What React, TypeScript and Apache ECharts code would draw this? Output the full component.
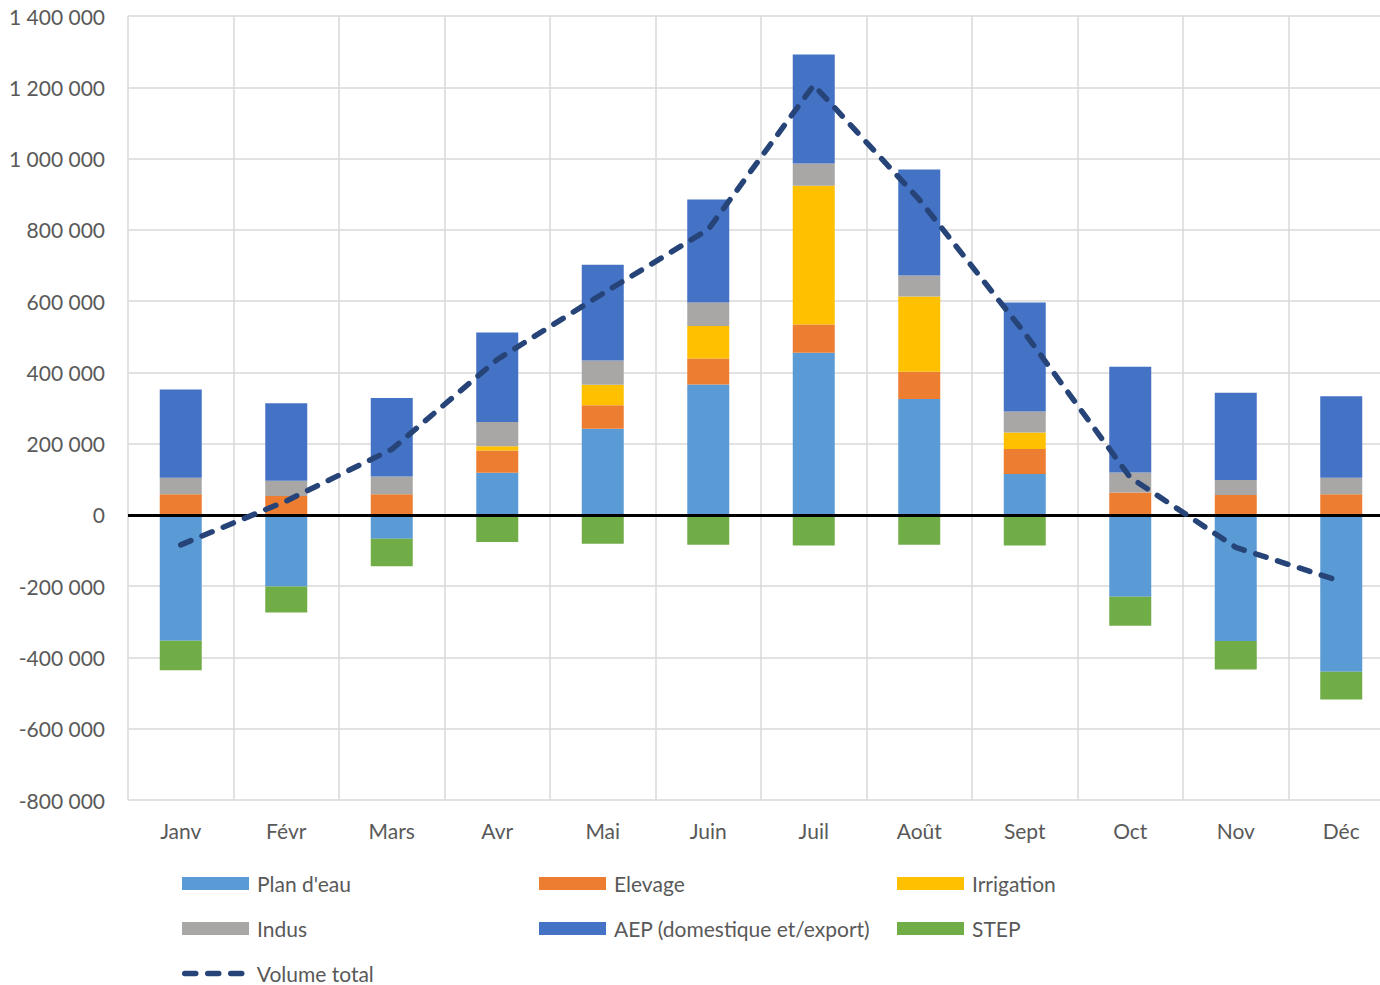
import React, { useEffect, useRef } from "react";
import * as echarts from "echarts";

const months = ["Janv", "Févr", "Mars", "Avr", "Mai", "Juin", "Juil", "Août", "Sept", "Oct", "Nov", "Déc"];
const planDeau = [-353000, -201000, -67000, 118000, 242000, 366000, 455000, 325000, 115000, -230000, -354000, -440000];
const elevage = [58000, 53000, 58000, 63000, 66000, 73000, 79000, 77000, 70000, 63000, 56000, 58000];
const irrigation = [0, 0, 0, 12000, 57000, 91000, 390000, 211000, 46000, 0, 0, 0];
const indus = [46000, 43000, 50000, 68000, 68000, 66000, 62000, 59000, 59000, 56000, 42000, 46000];
const aep = [248000, 217000, 220000, 251000, 269000, 289000, 306000, 297000, 306000, 297000, 245000, 229000];
const step = [-83000, -73000, -77000, -76000, -81000, -84000, -86000, -84000, -86000, -81000, -80000, -78000];
const volumeTotal = [-84000, 39000, 184000, 436000, 621000, 801000, 1206000, 885000, 510000, 105000, -91000, -187000];

const FONT = "Lato";
const TXT = "#595959";
const LINE_COLOR = "#264478";

export default function App() {
  const ref = useRef<HTMLDivElement>(null);
  useEffect(() => {
    if (!ref.current) return;
    const chart = echarts.init(ref.current, undefined, { renderer: "svg" });
    const barSeries = [
      { name: "Plan d'eau", data: planDeau, color: "#5B9BD5" },
      { name: "Elevage", data: elevage, color: "#ED7D31" },
      { name: "Irrigation", data: irrigation, color: "#FFC000" },
      { name: "Indus", data: indus, color: "#A9A7A6" },
      { name: "AEP (domestique et/export)", data: aep, color: "#4472C4" },
      { name: "STEP", data: step, color: "#70AD47" },
    ];
    const legendPos: [string, number, number][] = [
      ["Plan d'eau", 182, 873],
      ["Elevage", 539, 873],
      ["Irrigation", 897, 873],
      ["Indus", 182, 918],
      ["AEP (domestique et/export)", 539, 918],
      ["STEP", 897, 918],
      ["Volume total", 182, 963],
    ];
    const fmt = (v: number) => {
      const s = Math.abs(v).toString().replace(/\B(?=(\d{3})+(?!\d))/g, " ");
      return (v < 0 ? "-" : "") + s;
    };
    const dash = { color: LINE_COLOR, width: 5.5, type: [11, 12], cap: "round" };
    chart.setOption({
      animation: false,
      textStyle: { fontFamily: FONT },
      grid: { left: 128, right: 0, top: 16, bottom: 185, containLabel: false },
      legend: legendPos.map(([n, l, t]) => {
        const isLine = n === "Volume total";
        return {
          data: [isLine ? { name: n } : { name: n, icon: "rect" }],
          left: l,
          top: t,
          padding: 0,
          itemWidth: 67,
          itemHeight: 13,
          itemGap: 8,
          textStyle: { fontFamily: FONT, fontSize: 21, color: TXT, padding: [0, 0, 0, isLine ? 0 : 3] },
          selectedMode: false,
          ...(isLine ? { itemStyle: { opacity: 0 }, lineStyle: dash } : {}),
        };
      }),
      xAxis: {
        type: "category",
        data: months,
        axisLine: { show: false, onZero: false },
        axisTick: { show: false },
        axisLabel: { color: TXT, fontSize: 21, fontFamily: FONT, margin: 20, interval: 0 },
        splitLine: { show: true, interval: 0, lineStyle: { color: "#d9d9d9", width: 1.5 } },
      },
      yAxis: {
        type: "value",
        min: -800000,
        max: 1400000,
        interval: 200000,
        axisLine: { show: false },
        axisTick: { show: false },
        axisLabel: { color: TXT, fontSize: 21, fontFamily: FONT, margin: 23, formatter: fmt },
        splitLine: { lineStyle: { color: "#d9d9d9", width: 1.5 } },
      },
      series: [
        ...barSeries.map((s) => ({
          name: s.name,
          type: "bar",
          stack: "total",
          barWidth: 42,
          data: s.data,
          itemStyle: { color: s.color },
        })),
        {
          name: "Volume total",
          type: "line",
          data: volumeTotal,
          symbol: "none",
          showSymbol: false,
          z: 5,
          lineStyle: dash,
          itemStyle: { color: LINE_COLOR },
          markLine: {
            silent: true,
            symbol: ["none", "none"],
            label: { show: false },
            lineStyle: { color: "#000000", width: 3, type: "solid" },
            data: [{ yAxis: 0 }],
          },
        },
      ],
    });
    return () => chart.dispose();
  }, []);
  return (
    <div style={{ position: "absolute", left: 0, top: 0, width: 1380, height: 985, overflow: "hidden" }}>
      <div ref={ref} style={{ width: 1394, height: 985 }} />
    </div>
  );
}
